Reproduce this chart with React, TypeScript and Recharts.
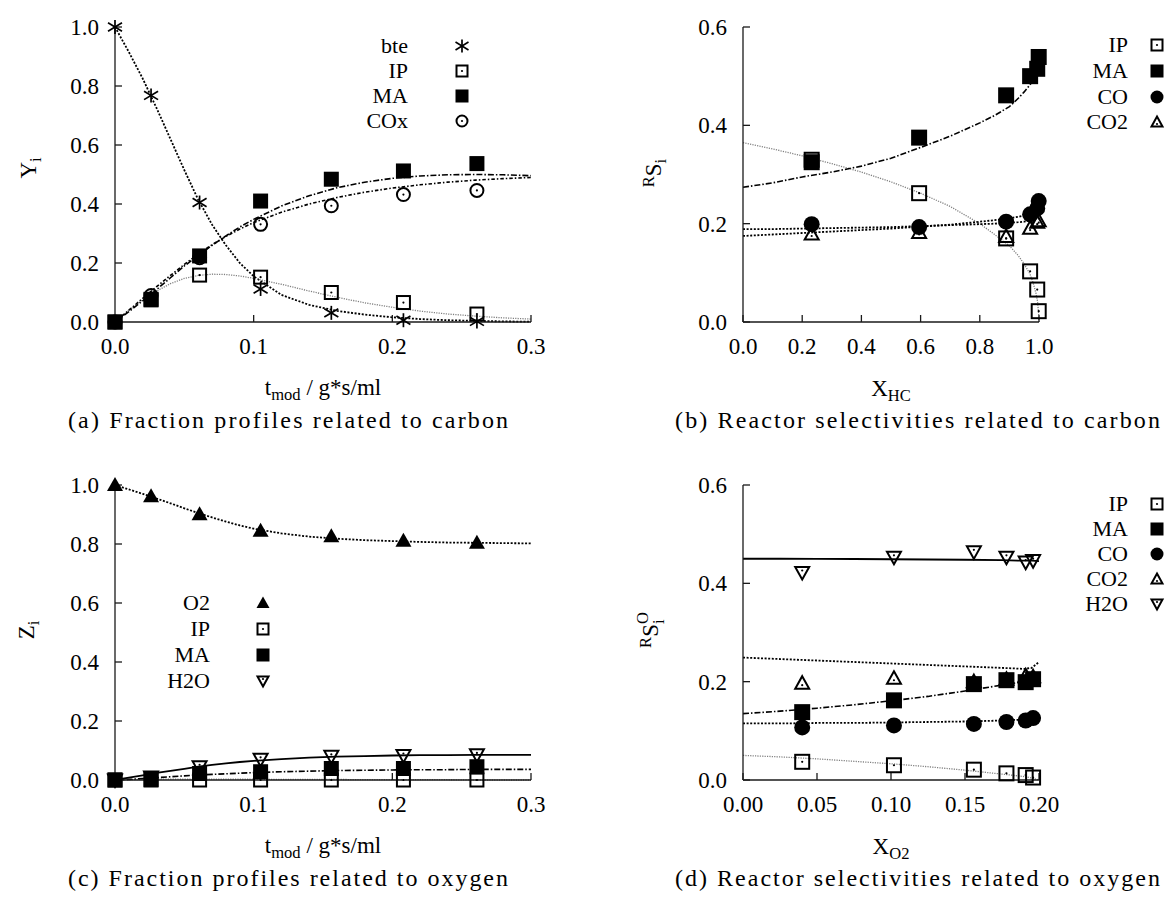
import React from 'react';
import { ComposedChart, Line, Scatter, XAxis, YAxis } from 'recharts';

const FONT = "'Liberation Serif', Tinos, 'DejaVu Serif', serif";

// ---------- Panel (a): fractions related to carbon ----------
const tA = [0, 0.026, 0.061, 0.105, 0.156, 0.208, 0.261];
const bteA = [1.0, 0.768, 0.405, 0.112, 0.031, 0.006, 0.002];
const ipA = [0.0, 0.077, 0.159, 0.152, 0.1, 0.066, 0.027];
const maA = [0.0, 0.075, 0.224, 0.41, 0.484, 0.512, 0.537];
const coxA = [0.0, 0.09, 0.218, 0.331, 0.394, 0.432, 0.446];

const tGrid = [0, 0.01, 0.02, 0.03, 0.04, 0.05, 0.06, 0.07, 0.08, 0.09, 0.1, 0.12, 0.14, 0.16, 0.18, 0.2, 0.22, 0.24, 0.26, 0.28, 0.3];
const bteFitA = [1.0, 0.915, 0.825, 0.725, 0.62, 0.515, 0.415, 0.33, 0.26, 0.2, 0.155, 0.092, 0.058, 0.038, 0.025, 0.016, 0.01, 0.006, 0.004, 0.002, 0.001];
const ipFitA = [0, 0.04, 0.075, 0.105, 0.13, 0.148, 0.158, 0.162, 0.161, 0.156, 0.148, 0.128, 0.105, 0.084, 0.065, 0.05, 0.037, 0.027, 0.02, 0.014, 0.01];
const maFitA = [0, 0.035, 0.072, 0.11, 0.15, 0.19, 0.225, 0.26, 0.292, 0.322, 0.348, 0.393, 0.428, 0.455, 0.474, 0.487, 0.495, 0.499, 0.5, 0.499, 0.496];
const coxFitA = [0, 0.04, 0.08, 0.12, 0.158, 0.195, 0.23, 0.262, 0.29, 0.315, 0.337, 0.372, 0.4, 0.422, 0.44, 0.454, 0.465, 0.474, 0.481, 0.486, 0.49];

// ---------- Panel (c): fractions related to oxygen ----------
const o2C = [1.0, 0.962, 0.901, 0.845, 0.826, 0.811, 0.804];
const ipC = [0.0, 0.0, 0.0, 0.0, 0.0, 0.0, 0.0];
const maC = [0.0, 0.002, 0.022, 0.028, 0.039, 0.039, 0.045];
const h2oC = [0.0, 0.01, 0.045, 0.07, 0.08, 0.083, 0.085];
const o2FitC = [1.0, 0.985, 0.97, 0.954, 0.938, 0.921, 0.905, 0.89, 0.876, 0.863, 0.852, 0.836, 0.825, 0.818, 0.813, 0.81, 0.807, 0.805, 0.804, 0.803, 0.802];
const h2oFitC = [0, 0.008, 0.016, 0.024, 0.031, 0.038, 0.045, 0.051, 0.056, 0.061, 0.065, 0.071, 0.076, 0.079, 0.081, 0.083, 0.084, 0.0845, 0.085, 0.085, 0.085];
const maFitC = [0, 0.002, 0.005, 0.008, 0.011, 0.014, 0.017, 0.019, 0.021, 0.023, 0.025, 0.028, 0.03, 0.032, 0.033, 0.034, 0.035, 0.035, 0.036, 0.036, 0.036];
const ipFitC = [0, 0.001, 0.002, 0.003, 0.003, 0.003, 0.003, 0.003, 0.003, 0.003, 0.003, 0.002, 0.002, 0.002, 0.001, 0.001, 0.001, 0.001, 0, 0, 0];

// ---------- Panel (b): reactor selectivities related to carbon ----------
const xB = [0.232, 0.595, 0.889, 0.97, 0.994, 0.999];
const ipB = [0.33, 0.262, 0.17, 0.103, 0.066, 0.022];
const maB = [0.325, 0.375, 0.461, 0.5, 0.515, 0.539];
const coB = [0.199, 0.193, 0.204, 0.219, 0.231, 0.246];
const co2B = [0.179, 0.182, 0.174, 0.191, 0.203, 0.206];
const xFitB = [0, 0.1, 0.2, 0.3, 0.4, 0.5, 0.6, 0.7, 0.8, 0.85, 0.9, 0.93, 0.95, 0.97, 0.98, 0.99, 0.995, 0.999, 1.0];
const maFitB = [0.274, 0.283, 0.295, 0.305, 0.317, 0.333, 0.355, 0.378, 0.405, 0.42, 0.438, 0.455, 0.468, 0.483, 0.49, 0.497, 0.5, 0.51, 0.54];
const ipFitB = [0.365, 0.352, 0.338, 0.322, 0.305, 0.285, 0.262, 0.235, 0.2, 0.178, 0.155, 0.135, 0.118, 0.097, 0.08, 0.058, 0.042, 0.015, 0.0];
const coFitB = [0.175, 0.178, 0.181, 0.184, 0.187, 0.19, 0.194, 0.198, 0.204, 0.207, 0.211, 0.214, 0.217, 0.221, 0.224, 0.228, 0.231, 0.233, 0.235];
const co2FitB = [0.189, 0.189, 0.19, 0.191, 0.192, 0.193, 0.195, 0.197, 0.199, 0.2, 0.202, 0.203, 0.204, 0.206, 0.207, 0.209, 0.21, 0.211, 0.212];

// ---------- Panel (d): reactor selectivities related to oxygen ----------
const xD = [0.04, 0.102, 0.156, 0.178, 0.191, 0.196];
const ipD = [0.037, 0.03, 0.021, 0.0135, 0.01, 0.005];
const maD = [0.138, 0.162, 0.195, 0.203, 0.199, 0.205];
const coD = [0.107, 0.111, 0.114, 0.118, 0.121, 0.126];
const co2D = [0.197, 0.207, 0.2, 0.205, 0.212, 0.21];
const h2oD = [0.422, 0.453, 0.464, 0.453, 0.443, 0.446];
const xFitD = [0, 0.025, 0.05, 0.075, 0.1, 0.125, 0.15, 0.175, 0.19, 0.195, 0.2];
const h2oFitD = [0.45, 0.45, 0.4498, 0.4495, 0.449, 0.4485, 0.448, 0.447, 0.446, 0.446, 0.445];
const co2FitD = [0.249, 0.246, 0.243, 0.24, 0.237, 0.234, 0.231, 0.228, 0.226, 0.228, 0.24];
const maFitD = [0.135, 0.14, 0.146, 0.153, 0.161, 0.17, 0.181, 0.193, 0.2, 0.203, 0.206];
const coFitD = [0.115, 0.115, 0.116, 0.116, 0.117, 0.118, 0.119, 0.121, 0.123, 0.124, 0.127];
const ipFitD = [0.05, 0.047, 0.043, 0.038, 0.033, 0.027, 0.02, 0.012, 0.007, 0.004, 0.0];

// ---------- axis ticks ----------
const tTicks = [0, 0.1, 0.2, 0.3];
const yTicksAC = [0, 0.2, 0.4, 0.6, 0.8, 1.0];
const xTicksB = [0, 0.2, 0.4, 0.6, 0.8, 1.0];
const yTicksBD = [0, 0.2, 0.4, 0.6];
const xTicksD = [0, 0.05, 0.1, 0.15, 0.2];

type Pt = { x: number; y: number };
const zip = (xs: number[], ys: number[]): Pt[] => xs.map((x, i) => ({ x, y: ys[i] }));

type MK = 'star' | 'sqOpen' | 'sqFill' | 'circOpen' | 'circFill' | 'triFill' | 'triOpen' | 'triDown';

function Marker({ kind, cx, cy, s }: { kind: MK; cx: number; cy: number; s: number }) {
  const h = s / 2;
  const dot = <circle cx={cx} cy={cy} r={1.1} fill="#000" />;
  switch (kind) {
    case 'star':
      return (
        <g stroke="#000" strokeWidth={1.7}>
          <line x1={cx} y1={cy - h} x2={cx} y2={cy + h} />
          <line x1={cx - h} y1={cy - h * 0.6} x2={cx + h} y2={cy + h * 0.6} />
          <line x1={cx - h} y1={cy + h * 0.6} x2={cx + h} y2={cy - h * 0.6} />
        </g>
      );
    case 'sqOpen':
      return (
        <g>
          <rect x={cx - h + 1} y={cy - h + 1} width={s - 2} height={s - 2} fill="none" stroke="#000" strokeWidth={2} />
          {dot}
        </g>
      );
    case 'sqFill':
      return <rect x={cx - h} y={cy - h} width={s} height={s} fill="#000" />;
    case 'circOpen':
      return (
        <g>
          <circle cx={cx} cy={cy} r={h - 1} fill="none" stroke="#000" strokeWidth={2} />
          {dot}
        </g>
      );
    case 'circFill':
      return <circle cx={cx} cy={cy} r={h} fill="#000" />;
    case 'triFill':
      return <polygon points={`${cx},${cy - h} ${cx + h},${cy + h * 0.75} ${cx - h},${cy + h * 0.75}`} fill="#000" />;
    case 'triOpen':
      return (
        <g>
          <polygon points={`${cx},${cy - h + 1} ${cx + h - 1},${cy + h * 0.7} ${cx - h + 1},${cy + h * 0.7}`} fill="none" stroke="#000" strokeWidth={2} />
          <circle cx={cx} cy={cy + 2} r={1.1} fill="#000" />
        </g>
      );
    case 'triDown':
      return (
        <g>
          <polygon points={`${cx},${cy + h - 1} ${cx + h - 1},${cy - h * 0.7} ${cx - h + 1},${cy - h * 0.7}`} fill="none" stroke="#000" strokeWidth={2} />
          <circle cx={cx} cy={cy - 2} r={1.1} fill="#000" />
        </g>
      );
  }
  return null;
}

type Curve = { data: Pt[]; color: string; width: number; dash?: string };
type PSet = { data: Pt[]; kind: MK; size: number };

const DOTTED = '2 1.6';
const DASHDOT = '6 2 1.5 2';
const DASHDOT2 = '3.5 2 1.5 2';
const GRAYDOT = '1.2 1.2';

function Panel(p: {
  left: number; top: number; width: number; height: number;
  margin: { top: number; right: number; bottom: number; left: number };
  yAxisWidth: number;
  xDomain: [number, number]; xTicks: number[]; xDigits: number;
  yDomain: [number, number]; yTicks: number[];
  curves: Curve[]; points: PSet[];
}) {
  const tickStyle = { fontFamily: FONT, fontSize: 23, fill: '#000' };
  return (
    <div style={{ position: 'absolute', left: p.left, top: p.top, width: p.width, height: p.height, fontFamily: FONT }}>
      <ComposedChart width={p.width} height={p.height} margin={p.margin} style={{ fontFamily: FONT }}>
        <XAxis xAxisId="b" dataKey="x" type="number" orientation="bottom" domain={p.xDomain} ticks={p.xTicks}
          interval={0} tickFormatter={(v: number) => v.toFixed(p.xDigits)}
          tickSize={-7} tickMargin={23} height={30} stroke="#1a1a1a" strokeWidth={1.3} tick={tickStyle} />
        <XAxis xAxisId="t" dataKey="x" type="number" orientation="top" domain={p.xDomain} ticks={p.xTicks}
          allowDataOverflow interval={0} tick={false} tickSize={-7} height={0} stroke="#1a1a1a" strokeWidth={1.3} />
        <YAxis yAxisId="l" dataKey="y" type="number" orientation="left" domain={p.yDomain} ticks={p.yTicks}
          interval={0} tickFormatter={(v: number) => v.toFixed(1)}
          tickSize={-7} tickMargin={23} width={p.yAxisWidth} stroke="#1a1a1a" strokeWidth={1.3} tick={tickStyle} />
        <YAxis yAxisId="r" dataKey="y" type="number" orientation="right" domain={p.yDomain} ticks={p.yTicks}
          allowDataOverflow interval={0} tick={false} tickSize={-7} width={0} stroke="#1a1a1a" strokeWidth={1.3} />
        {p.curves.map((c, i) => (
          <Line key={'c' + i} xAxisId="b" yAxisId="l" data={c.data} dataKey="y" type="linear" stroke={c.color}
            strokeWidth={c.width} strokeDasharray={c.dash} dot={false} activeDot={false} isAnimationActive={false} />
        ))}
        {p.points.map((s, i) => (
          <Scatter key={'s' + i} xAxisId="b" yAxisId="l" data={s.data} dataKey="y" isAnimationActive={false}
            shape={(q: any) => <Marker kind={s.kind} cx={q.cx} cy={q.cy} s={s.size} />} />
        ))}
      </ComposedChart>
    </div>
  );
}

function Txt({ x, y, anchor = 'middle', rotate = false, size = 23, children }: {
  x: number; y: number; anchor?: 'start' | 'middle' | 'end'; rotate?: boolean; size?: number; children: React.ReactNode;
}) {
  const tx = anchor === 'end' ? '-100%' : anchor === 'start' ? '0' : '-50%';
  return (
    <div style={{
      position: 'absolute', left: x, top: y, fontFamily: FONT, fontSize: size, lineHeight: 1, whiteSpace: 'nowrap',
      color: '#000', transform: `translate(${tx}, -50%)${rotate ? ' rotate(-90deg)' : ''}`,
    }}>{children}</div>
  );
}

const Sub = ({ children }: { children: React.ReactNode }) => (
  <span style={{ fontSize: '0.72em', position: 'relative', top: '0.32em' }}>{children}</span>
);
const Sup = ({ children }: { children: React.ReactNode }) => (
  <span style={{ fontSize: '0.72em', position: 'relative', top: '-0.42em' }}>{children}</span>
);

function LegendBlock({ textRight, symX, rows }: { textRight: number; symX: number; rows: { y: number; label: string; kind: MK }[] }) {
  return (
    <>
      {rows.map((r) => (
        <React.Fragment key={r.label + r.y}>
          <Txt x={textRight} y={r.y} anchor="end" size={22}>{r.label}</Txt>
          <svg style={{ position: 'absolute', left: symX - 10, top: r.y - 10 }} width={20} height={20}>
            <Marker kind={r.kind} cx={10} cy={10} s={13} />
          </svg>
        </React.Fragment>
      ))}
    </>
  );
}

const marginAC = { top: 27, right: 29, bottom: 68, left: 0 };
const marginBD = { top: 27, right: 126, bottom: 68, left: 0 };

export default function App() {
  return (
    <div style={{ position: 'absolute', left: 0, top: 0, width: 1165, height: 898, background: '#fff', overflow: 'hidden', fontFamily: FONT }}>
      {/* (a) */}
      <Panel left={0} top={0} width={560} height={420} margin={marginAC} yAxisWidth={115}
        xDomain={[0, 0.3]} xTicks={tTicks} xDigits={1} yDomain={[0, 1]} yTicks={yTicksAC}
        curves={[
          { data: zip(tGrid, bteFitA), color: '#000', width: 1.8, dash: DOTTED },
          { data: zip(tGrid, ipFitA), color: '#808080', width: 1.3, dash: GRAYDOT },
          { data: zip(tGrid, maFitA), color: '#000', width: 1.6, dash: DASHDOT },
          { data: zip(tGrid, coxFitA), color: '#000', width: 1.6, dash: DASHDOT2 },
        ]}
        points={[
          { data: zip(tA, bteA), kind: 'star', size: 14 },
          { data: zip(tA, ipA), kind: 'sqOpen', size: 15 },
          { data: zip(tA, maA), kind: 'sqFill', size: 15 },
          { data: zip(tA, coxA), kind: 'circOpen', size: 15 },
        ]} />
      {/* (b) */}
      <Panel left={560} top={0} width={605} height={420} margin={marginBD} yAxisWidth={183}
        xDomain={[0, 1]} xTicks={xTicksB} xDigits={1} yDomain={[0, 0.6]} yTicks={yTicksBD}
        curves={[
          { data: zip(xFitB, ipFitB), color: '#808080', width: 1.3, dash: GRAYDOT },
          { data: zip(xFitB, maFitB), color: '#000', width: 1.6, dash: DASHDOT },
          { data: zip(xFitB, coFitB), color: '#000', width: 1.8, dash: DOTTED },
          { data: zip(xFitB, co2FitB), color: '#000', width: 1.8, dash: DOTTED },
        ]}
        points={[
          { data: zip(xB, ipB), kind: 'sqOpen', size: 16 },
          { data: zip(xB, maB), kind: 'sqFill', size: 16 },
          { data: zip(xB, coB), kind: 'circFill', size: 16 },
          { data: zip(xB, co2B), kind: 'triOpen', size: 16 },
        ]} />
      {/* (c) */}
      <Panel left={0} top={458} width={560} height={420} margin={marginAC} yAxisWidth={115}
        xDomain={[0, 0.3]} xTicks={tTicks} xDigits={1} yDomain={[0, 1]} yTicks={yTicksAC}
        curves={[
          { data: zip(tGrid, o2FitC), color: '#000', width: 1.8, dash: DOTTED },
          { data: zip(tGrid, ipFitC), color: '#808080', width: 1.3, dash: GRAYDOT },
          { data: zip(tGrid, maFitC), color: '#000', width: 1.6, dash: DASHDOT },
          { data: zip(tGrid, h2oFitC), color: '#000', width: 1.8 },
        ]}
        points={[
          { data: zip(tA, o2C), kind: 'triFill', size: 16 },
          { data: zip(tA, ipC), kind: 'sqOpen', size: 15 },
          { data: zip(tA, maC), kind: 'sqFill', size: 15 },
          { data: zip(tA, h2oC), kind: 'triDown', size: 16 },
        ]} />
      {/* (d) */}
      <Panel left={560} top={458} width={605} height={420} margin={marginBD} yAxisWidth={183}
        xDomain={[0, 0.2]} xTicks={xTicksD} xDigits={2} yDomain={[0, 0.6]} yTicks={yTicksBD}
        curves={[
          { data: zip(xFitD, ipFitD), color: '#808080', width: 1.3, dash: GRAYDOT },
          { data: zip(xFitD, maFitD), color: '#000', width: 1.6, dash: DASHDOT },
          { data: zip(xFitD, coFitD), color: '#000', width: 1.8, dash: DOTTED },
          { data: zip(xFitD, co2FitD), color: '#000', width: 1.8, dash: DOTTED },
          { data: zip(xFitD, h2oFitD), color: '#000', width: 1.8 },
        ]}
        points={[
          { data: zip(xD, ipD), kind: 'sqOpen', size: 16 },
          { data: zip(xD, maD), kind: 'sqFill', size: 16 },
          { data: zip(xD, coD), kind: 'circFill', size: 16 },
          { data: zip(xD, co2D), kind: 'triOpen', size: 16 },
          { data: zip(xD, h2oD), kind: 'triDown', size: 16 },
        ]} />

      {/* axis titles */}
      <Txt x={28} y={168} rotate>Y<Sub>i</Sub></Txt>
      <Txt x={323} y={387}>t<Sub>mod</Sub> / g*s/ml</Txt>
      <Txt x={653} y={173} rotate><Sup>R</Sup>S<Sub>i</Sub></Txt>
      <Txt x={891} y={388}>X<Sub>HC</Sub></Txt>
      <Txt x={26} y={630} rotate>Z<Sub>i</Sub></Txt>
      <Txt x={323} y={845}>t<Sub>mod</Sub> / g*s/ml</Txt>
      <Txt x={653} y={630} rotate>
        <Sup>R</Sup>S
        <span style={{ display: 'inline-flex', flexDirection: 'column', fontSize: '0.72em', lineHeight: 0.95, verticalAlign: 'middle', position: 'relative', top: '-0.1em' }}>
          <span>O</span><span>i</span>
        </span>
      </Txt>
      <Txt x={891} y={846}>X<Sub>O2</Sub></Txt>

      {/* legends */}
      <LegendBlock textRight={408} symX={462} rows={[
        { y: 46, label: 'bte', kind: 'star' },
        { y: 71, label: 'IP', kind: 'sqOpen' },
        { y: 96, label: 'MA', kind: 'sqFill' },
        { y: 121, label: 'COx', kind: 'circOpen' },
      ]} />
      <LegendBlock textRight={1128} symX={1157} rows={[
        { y: 45, label: 'IP', kind: 'sqOpen' },
        { y: 71, label: 'MA', kind: 'sqFill' },
        { y: 97, label: 'CO', kind: 'circFill' },
        { y: 122, label: 'CO2', kind: 'triOpen' },
      ]} />
      <LegendBlock textRight={210} symX={263} rows={[
        { y: 603, label: 'O2', kind: 'triFill' },
        { y: 629, label: 'IP', kind: 'sqOpen' },
        { y: 655, label: 'MA', kind: 'sqFill' },
        { y: 681, label: 'H2O', kind: 'triDown' },
      ]} />
      <LegendBlock textRight={1128} symX={1157} rows={[
        { y: 504, label: 'IP', kind: 'sqOpen' },
        { y: 529, label: 'MA', kind: 'sqFill' },
        { y: 554, label: 'CO', kind: 'circFill' },
        { y: 579, label: 'CO2', kind: 'triOpen' },
        { y: 604, label: 'H2O', kind: 'triDown' },
      ]} />

      {/* captions */}
      <svg style={{ position: 'absolute', left: 0, top: 0 }} width={1165} height={898}>
        <g style={{ fontFamily: FONT }} fontSize={24} fill="#000">
          <text x={68} y={428} textLength={440} lengthAdjust="spacing">(a) Fraction profiles related to carbon</text>
          <text x={675} y={428} textLength={485} lengthAdjust="spacing">(b) Reactor selectivities related to carbon</text>
          <text x={68} y={886} textLength={440} lengthAdjust="spacing">(c) Fraction profiles related to oxygen</text>
          <text x={675} y={886} textLength={485} lengthAdjust="spacing">(d) Reactor selectivities related to oxygen</text>
        </g>
      </svg>
    </div>
  );
}
